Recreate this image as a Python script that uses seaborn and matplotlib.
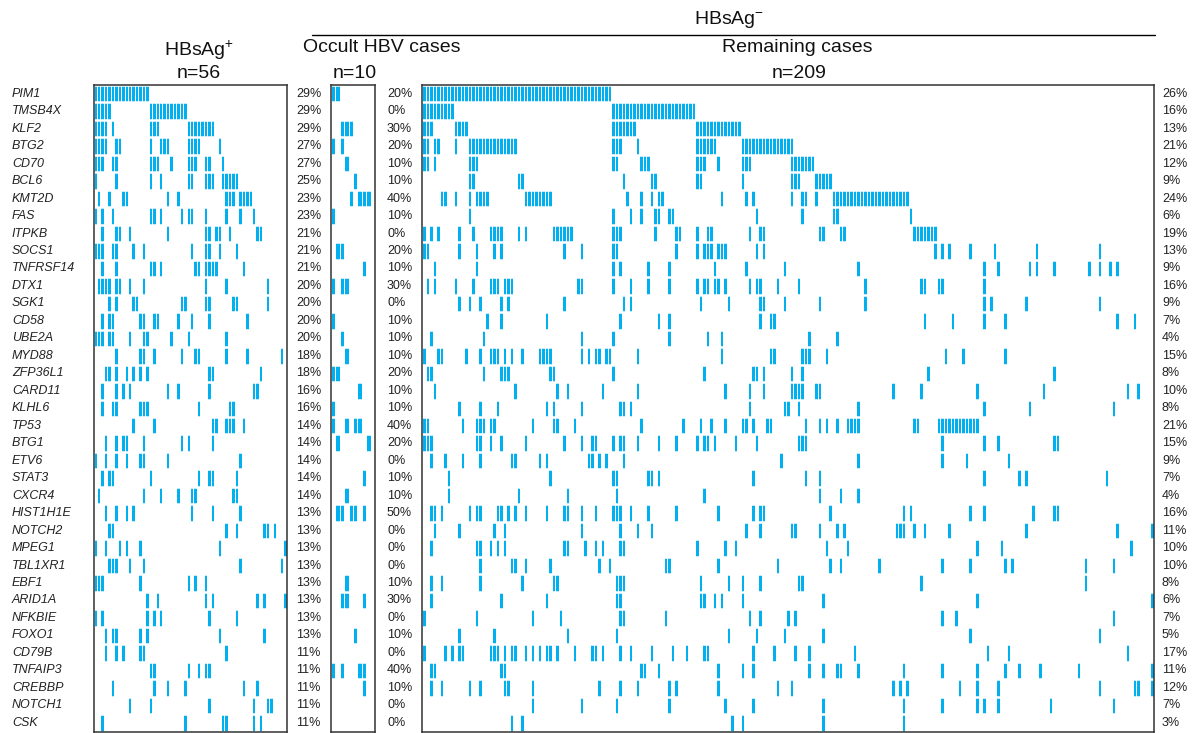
import matplotlib
matplotlib.use("Agg")
import matplotlib.pyplot as plt
import numpy as np
import seaborn as sns
from matplotlib.colors import ListedColormap
from matplotlib.transforms import blended_transform_factory

genes = [
    "PIM1", "TMSB4X", "KLF2", "BTG2", "CD70", "BCL6", "KMT2D", "FAS", "ITPKB",
    "SOCS1", "TNFRSF14", "DTX1", "SGK1", "CD58", "UBE2A", "MYD88", "ZFP36L1",
    "CARD11", "KLHL6", "TP53", "BTG1", "ETV6", "STAT3", "CXCR4", "HIST1H1E",
    "NOTCH2", "MPEG1", "TBL1XR1", "EBF1", "ARID1A", "NFKBIE", "FOXO1", "CD79B",
    "TNFAIP3", "CREBBP", "NOTCH1", "CSK",
]

n_pos, n_occult, n_rem = 56, 10, 209

pct_pos = [29, 29, 29, 27, 27, 25, 23, 23, 21, 21, 21, 20, 20, 20, 20, 18, 18, 16, 16,
           14, 14, 14, 14, 14, 13, 13, 13, 13, 13, 13, 13, 13, 11, 11, 11, 11, 11]
pct_occult = [20, 0, 30, 20, 10, 10, 40, 10, 0, 20, 10, 30, 0, 10, 10, 10, 20, 10, 10,
              40, 20, 0, 10, 10, 50, 0, 0, 0, 10, 30, 0, 10, 0, 40, 10, 0, 0]
pct_rem = [26, 16, 13, 21, 12, 9, 24, 6, 19, 13, 9, 16, 9, 7, 4, 15, 8, 10, 8,
           21, 15, 9, 7, 4, 16, 11, 10, 10, 8, 6, 7, 5, 17, 11, 12, 7, 3]

# mutated sample positions per gene ("a-b" = run of samples)
hits_pos = [
    "0-15", "0-4,16-26", "0-3,5,16-18,27-34", "0-3,6,7,16,19-21,27-30,36",
    "0-2,5,6,16-18,22,27-29,32,33,37", "0,6,16,19,27,28,32-34,37-41",
    "1,4,8,9,21,24,38-40,42-45", "0,2,5,16,17,19,25,27,28,32,38,42,46",
    "2,6,7,10,21,32,33,35,36,39,47,48", "0-2,5,6,11,14,28,32,33,36,41",
    "2,6,16,17,19,29,30,32-35,43", "1-4,6,7,10,14,32,38,50",
    "4,6,11,12,25,26,32,33,40,41,50", "2,4,5,13,14,17,18,24,28,33,44",
    "0-2,4,5,10,14,15,22,27,38", "6,13,14,17,25,29,30,38,44,54",
    "3,4,6,9,11,13,15,33,34,48", "2,6,8,10,21,24,33,46,47",
    "2,5,6,13-15,30,39,40", "11,17,34,35,38-40,43", "3,6,8,9,14,25,27,34",
    "0,3,6,9,13,14,21,42", "2,4,5,16,30,33,34,41", "1,14,19,24,28,29,40,41",
    "3,6,9,11,28,34,42", "4,5,38,41,49,50,52", "0,3,7,9,13,36,55",
    "4-6,10,14,42,54", "0-2,13,27,29,32", "15,18,32,34,47,49,55",
    "0,2,15,17,19,33,41", "3,5,6,13,15,36,49", "3,6,8,13,14,38",
    "16,17,27,30,32,33", "5,17,21,26,43,47", "10,16,33,46,50,51",
    "2,26,37,38,46,48",
]

hits_occult = [
    "0,1", "", "2-4", "0,2", "3", "5", "4,6-8", "0", "", "1,2", "7", "0,2,3", "",
    "0", "2", "3", "0,1", "6", "0", "0,3,5,6", "1,8", "", "7", "3", "1,2,4,5,7",
    "", "", "", "3", "2,3,7", "", "5", "", "0,2,6,7", "7", "", "",
]

hits_rem = [
    "0-53",
    "0-8,54-77",
    "0-2,9-12,54-60,78-90",
    "0,1,3,4,9,13-26,54-56,61,78-83,91-105",
    "0,1,3,13-15,54,55,62-64,78-80,84,91-93,105-111",
    "13,14,27,28,57,65,66,78,79,91,105-107,112-116",
    "5,6,9,13,15-18,29-36,58,62,65,67,68,85,92,94,105,108,109,112,117-138",
    "13,54,59,62,66,67,70,71,95,108,117,118,139",
    "0,2,4,10,14,19-22,27,29,37-42,54-56,66,72,73,78,81,82,93,96,97,113,114,119,120,140-146",
    "0,1,10,15,20,22,40,45,54,55,72,78,80-82,84-86,95,97,146,148,150,156,163,175,193",
    "3,15,54,56,64,70,83,92,103,124,160,164,173,175,180,190,193,196,198",
    "1,3,9,14,19-21,23-25,44,45,54,59,64,70,78,80,81,83,84,86,93,95,96,101,107,126,142,143,147,148,160",
    "10,13,16,22,24,40,57,59,79,87,96,97,103,113,126,160,162,172,193",
    "18,22,35,56,67,70,96,99,100,143,151,160,166,198,203",
    "2,17,45,54,70,81,85,110,118",
    "0,4,5,12,16,19-21,23,25,28,33-36,45,47,49,50,52,53,61,85,99,100,108-110,115,149,154,166",
    "1,2,17,22-24,36,37,54,80,94,95,97,105,108,144,180",
    "3,26,38,41,51,61,86,93,97,105-108,112,113,134,142,158,177,201,204",
    "10,16,21,35,37,45,56,57,59,93,103,104,107,124,160,173,197",
    "0,1,11,15-17,19,20,31,37,38,43,62,74,79,82,86,91,92,94,98,99,109,113,115,118,121-124,140,141,147-158",
    "0-2,15,16,19,22,29,40,45,48,49,54,56,57,61,67,72,78,80,81,83,89,95,107-109,148,160,164,180,181",
    "2,6,11,16,25,26,33,35,47,48,50,52,57,102,124,148,155,167",
    "7,36,54,55,64,65,67,94,109,113,160,170,172,195",
    "7,27,41,55,80,113,119,124",
    "2,3,5,13,15,16,21,22,24,26,29,35,40,41,45,49,54-56,59,64,72,84,94,96,97,116,137,139,156,160,174,180,181",
    "3,10,20,23,45,56,61,65,92,96,105,106,113,118,120,135-137,140,143,150,172,198,208",
    "2,15,16,19,21,23,40,41,46,49,51,56,57,78,86,89,115,121,158,165,202",
    "16,25,26,29,36,50,53,69,70,84,101,116,119,130,148,156,166,168,189,197",
    "2,5,16,28,37,38,55-57,79,87,91,96,107,108,142,189",
    "2,22,35,55,56,79,80,83,85,91,114,158,208",
    "0,15,31,39,56,57,69,93,96,104,106,148,152,197",
    "10,20,41,55,87,95,103,114,156,193",
    "0,6,8,10,11,19-21,23,25,26,29,31,33,35,36,38,43,48,49,51,56,59,65,71,75,80,81,94,100,106,110,123,161,167,201",
    "2,3,22,23,62,63,67,84,91,94,110,114,118,119,124,137,148,158,166,170,176,187,208",
    "2,5,13,16,23,24,31,50,56,61,70,72,84,101,105,134,136,138,153,158,164,193,203,204,208",
    "31,45,55,70,86,94,114,137,148,158,160,164,179,197",
    "25,28,88,91,114,137",
]


def parse_hits(spec):
    idx = []
    for part in spec.split(","):
        if not part:
            continue
        if "-" in part:
            a, b = part.split("-")
            idx.extend(range(int(a), int(b) + 1))
        else:
            idx.append(int(part))
    return idx


def hit_matrix(rows, n):
    mat = np.zeros((len(rows), n))
    for i, spec in enumerate(rows):
        mat[i, parse_hits(spec)] = 1
    return mat


sns.set_theme(style="white")
plt.rcParams["font.family"] = ["Liberation Sans", "DejaVu Sans"]
plt.rcParams["mathtext.default"] = "regular"

W, H = 1200, 733
fig = plt.figure(figsize=(12, 7.33), dpi=100)
cmap = ListedColormap(["white", "#00b0f0"])


def fx(x):
    return x / W


def fy(y):
    return 1 - y / H


panels = [
    (93.5, 286.5, hits_pos, n_pos, pct_pos, 296),
    (331, 375, hits_occult, n_occult, pct_occult, 387),
    (422, 1154, hits_rem, n_rem, pct_rem, 1162),
]
top, bottom = 85, 731.5

for i_panel, (x0, x1, hits, n, pcts, pct_x) in enumerate(panels):
    ax = fig.add_axes([fx(x0), fy(bottom), (x1 - x0) / W, (bottom - top) / H])
    mat = hit_matrix(hits, n)
    sns.heatmap(mat, cmap=cmap, vmin=0, vmax=1, cbar=False, linewidths=0.7,
                linecolor="white", xticklabels=False, yticklabels=False, ax=ax)
    ax.hlines(np.arange(0, len(genes) + 1), 0, n, color="white", lw=1.8)
    for spine in ax.spines.values():
        spine.set_visible(True)
        spine.set_color("#333333")
        spine.set_linewidth(1.1)
    trans = blended_transform_factory(fig.transFigure, ax.transData)
    for i, p in enumerate(pcts):
        ax.text(fx(pct_x), i + 0.5, f"{p}%", transform=trans, ha="left", va="center",
                fontsize=9, color="#222222")
    if i_panel == 0:
        for i, g in enumerate(genes):
            ax.text(fx(12), i + 0.5, g, transform=trans, ha="left", va="center",
                    fontsize=9, style="italic", color="#222222")

# group headers
hdr = dict(ha="center", va="center", fontsize=14, color="#111111")
fig.text(fx(199), fy(50), "HBsAg$^{+}$", **hdr)
fig.text(fx(199), fy(73), "n=56", **hdr)
fig.text(fx(382), fy(47), "Occult HBV cases", **hdr)
fig.text(fx(355), fy(73), "n=10", **hdr)
fig.text(fx(797), fy(47), "Remaining cases", **hdr)
fig.text(fx(799), fy(73), "n=209", **hdr)
fig.text(fx(729), fy(19), "HBsAg$^{-}$", **hdr)
fig.add_artist(plt.Line2D([fx(312), fx(1155)], [fy(35), fy(35)], color="black", lw=1,
                          transform=fig.transFigure))

fig.savefig("out.png", dpi=100)
